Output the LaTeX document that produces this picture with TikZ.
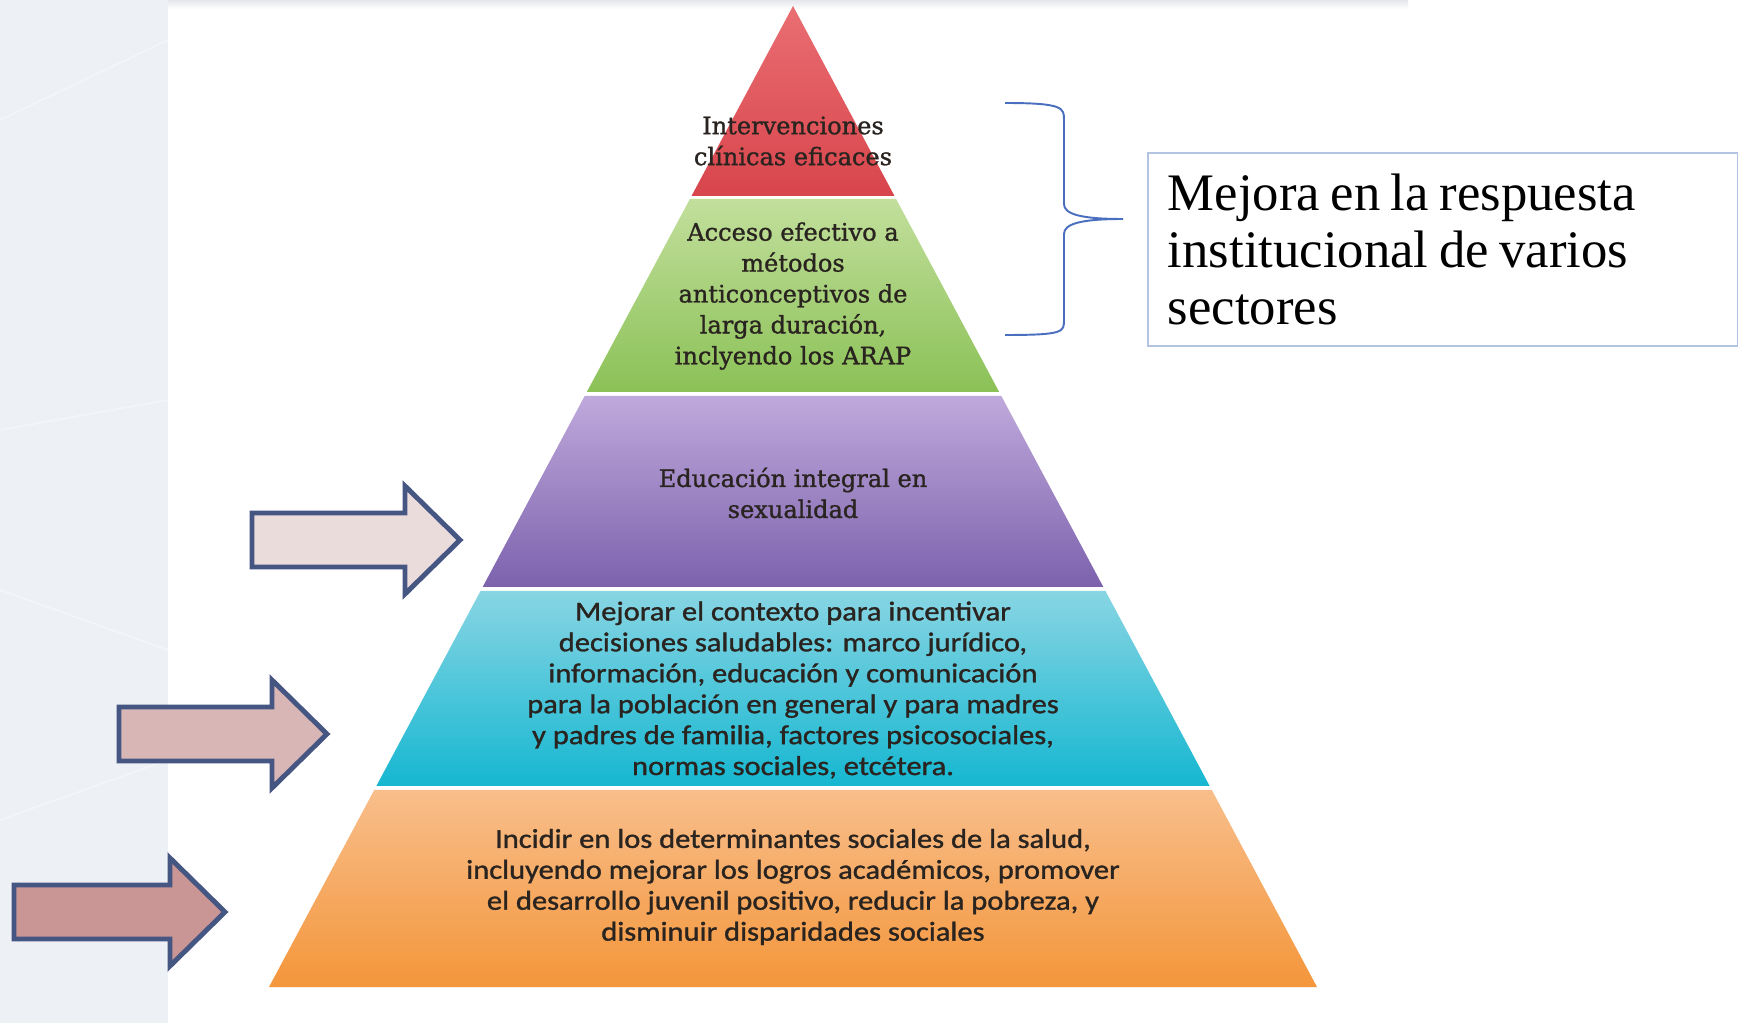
\documentclass[tikz,border=0pt]{standalone}
\usepackage{fontspec}
\setmainfont{Liberation Serif}
\newfontfamily\pyrserif[FakeBold=1.2]{DejaVu Serif}
\newfontfamily\pyrsans[FakeStretch=1.12, FakeBold=1.2]{Carlito}
\newfontfamily\boxserif{Liberation Serif}
\usetikzlibrary{calc}

\definecolor{panelbg}{HTML}{EDF0F5}
\definecolor{stripbg}{HTML}{E4E6EA}
\definecolor{arrowline}{HTML}{465683}
\definecolor{bracecol}{HTML}{4A6FBF}
\definecolor{boxline}{HTML}{B3C3E2}
\definecolor{pyrtext}{HTML}{2A2420}
\definecolor{redtop}{HTML}{E96E72}
\definecolor{redbot}{HTML}{D8454C}
\definecolor{greentop}{HTML}{C2DF9C}
\definecolor{greenbot}{HTML}{8BC157}
\definecolor{purpletop}{HTML}{BFA9DB}
\definecolor{purplebot}{HTML}{7C62AD}
\definecolor{cyantop}{HTML}{88D5E3}
\definecolor{cyanbot}{HTML}{16B7D1}
\definecolor{orangetop}{HTML}{F8BE8B}
\definecolor{orangebot}{HTML}{F4963B}
\definecolor{pinkA}{HTML}{EBDCDC}
\definecolor{pinkB}{HTML}{D9B6B6}
\definecolor{pinkC}{HTML}{C99595}

\tikzset{
  layerserif/.style={align=center, text=pyrtext,
    font=\pyrserif\fontsize{13.7}{17.6}\selectfont},
  layersans/.style={align=center, text=pyrtext,
    font=\pyrsans\fontsize{15.5}{17.6}\selectfont},
  bigarrow/.style={draw=arrowline, line width=2.8pt, line join=miter},
}

\begin{document}
\begin{tikzpicture}[x=0.02cm, y=-0.02cm]
  \useasboundingbox (0,0) rectangle (1738,1023);
  \fill[white] (0,0) rectangle (1738,1023);

  % background of the slide
  \fill[panelbg] (0,0) rectangle (168,1023);
  \shade[top color=stripbg, bottom color=white] (168,0) rectangle (1408,9);
  \foreach \ya/\yb in {430/400, 590/650, 820/760, 120/40}
    \draw[white, opacity=0.35, line width=1pt] (0,\ya) -- (168,\yb);

  % pyramid
  \coordinate (apex) at (793,6);
  \coordinate (baseL) at (269,987);
  \coordinate (baseR) at (1317,987);
  \foreach \ytop/\ybot/\ctop/\cbot in {6/196/redtop/redbot,
      199/392/greentop/greenbot, 396/587/purpletop/purplebot,
      591/786/cyantop/cyanbot, 790/987/orangetop/orangebot}
    \shade[top color=\ctop, bottom color=\cbot]
      ($(apex)!{(\ytop-6)/981}!(baseL)$) -- ($(apex)!{(\ybot-6)/981}!(baseL)$)
      -- ($(apex)!{(\ybot-6)/981}!(baseR)$) -- ($(apex)!{(\ytop-6)/981}!(baseR)$) -- cycle;

  \node[layerserif] (clinicas) at (793,141) {Intervenciones\\clínicas eficaces};
  \node[layerserif] (acceso) at (793,296) {Acceso efectivo a\\métodos\\anticonceptivos de\\larga duración,\\inclyendo los ARAP};
  \node[layerserif] (educacion) at (793,493) {Educación integral en\\sexualidad};
  \node[layersans] (contexto) at (793,690) {Mejorar el contexto para incentivar\\decisiones saludables: marco jurídico,\\información, educación y comunicación\\para la población en general y para madres\\y padres de familia, factores psicosociales,\\normas sociales, etcétera.};
  \node[layersans] (determinantes) at (793,887) {Incidir en los determinantes sociales de la salud,\\incluyendo mejorar los logros académicos, promover\\el desarrollo juvenil positivo, reducir la pobreza, y\\disminuir disparidades sociales};

  % arrows on the left
  \foreach \xs/\xt/\yc/\col in {252/460/540/pinkA, 119/327/734/pinkB, 14/225/912/pinkC}
    \filldraw[bigarrow, fill=\col]
      (\xs,\yc-27) -- (\xt-55,\yc-27) -- (\xt-55,\yc-54) -- (\xt,\yc)
      -- (\xt-55,\yc+54) -- (\xt-55,\yc+27) -- (\xs,\yc+27) -- cycle;

  % brace and box
  \draw[bracecol, line width=1.1pt]
    (1005,103) .. controls (1064,103) and (1064,108) .. (1064,120)
    -- (1064,204) .. controls (1064,214) and (1080,219) .. (1123,219)
    .. controls (1080,219) and (1064,224) .. (1064,234)
    -- (1064,320) .. controls (1064,332) and (1064,335) .. (1005,335);
  \node[draw=boxline, line width=1.1pt, anchor=north west,
        minimum width=11.8cm, minimum height=3.86cm,
        text width=11.0cm, inner xsep=0.4cm, align=left,
        font=\boxserif\fontsize{30}{32.7}\selectfont] (respuesta) at (1147,152)
    {\spaceskip=0.2em\relax Mejora en la respuesta\\institucional de varios\\sectores};
\end{tikzpicture}
\end{document}
